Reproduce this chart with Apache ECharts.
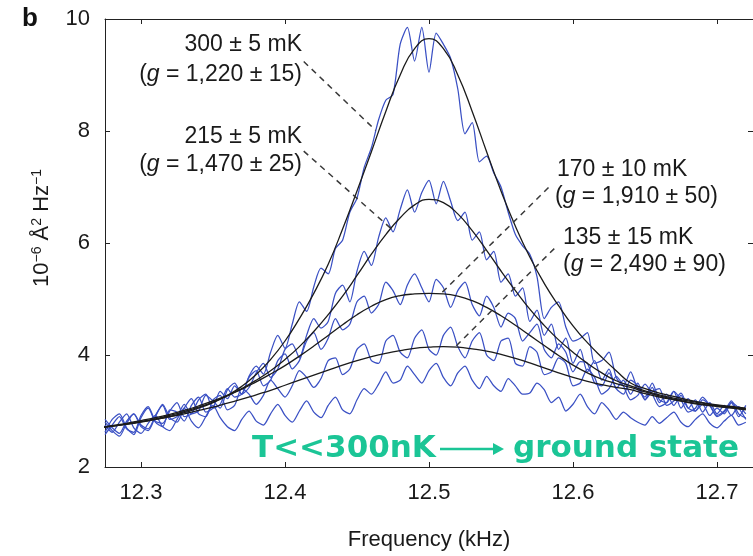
<!DOCTYPE html>
<html><head><meta charset="utf-8">
<script src="https://cdn.jsdelivr.net/npm/echarts@6/dist/echarts.min.js"></script>
<style>html,body{margin:0;padding:0;background:#fff}#c{width:753px;height:556px}</style>
</head><body><div id="c"></div>
<script>
// ---- data ----
const xTicks = [12.3, 12.4, 12.5, 12.6, 12.7];
const yTicks = [2, 4, 6, 8, 10];
const fitFreq = [12.27,12.28,12.29,12.30,12.31,12.32,12.33,12.34,12.35,12.36,12.37,12.38,12.39,12.40,12.41,12.42,12.43,12.44,12.45,12.46,12.47,12.48,12.49,12.50,12.51,12.52,12.53,12.54,12.55,12.56,12.57,12.58,12.59,12.60,12.61,12.62,12.63,12.64,12.65,12.66,12.67,12.68,12.69,12.70,12.71,12.72];
const fit300 = [2.70,2.73,2.76,2.80,2.85,2.90,2.97,3.05,3.15,3.28,3.44,3.65,3.92,4.25,4.65,5.10,5.62,6.25,6.93,7.63,8.35,9.00,9.47,9.65,9.47,9.00,8.35,7.63,6.93,6.30,5.75,5.28,4.88,4.52,4.22,3.96,3.72,3.50,3.40,3.32,3.26,3.20,3.15,3.11,3.08,3.05];
const fit215 = [2.70,2.73,2.77,2.81,2.86,2.92,2.99,3.07,3.16,3.27,3.40,3.55,3.72,3.92,4.15,4.42,4.72,5.05,5.42,5.80,6.15,6.45,6.68,6.78,6.72,6.52,6.22,5.87,5.50,5.15,4.82,4.53,4.27,4.05,3.85,3.68,3.54,3.45,3.36,3.29,3.23,3.18,3.14,3.10,3.07,3.04];
const fit170 = [2.70,2.74,2.78,2.83,2.88,2.94,3.01,3.09,3.18,3.28,3.39,3.52,3.66,3.81,3.98,4.16,4.35,4.54,4.72,4.87,4.99,5.06,5.09,5.10,5.09,5.05,4.97,4.85,4.70,4.53,4.35,4.17,3.99,3.82,3.68,3.57,3.49,3.42,3.34,3.27,3.21,3.16,3.12,3.09,3.06,3.03];
const fit135 = [2.70,2.73,2.77,2.81,2.85,2.90,2.95,3.01,3.07,3.14,3.21,3.29,3.37,3.46,3.55,3.64,3.73,3.82,3.90,3.97,4.03,4.08,4.12,4.14,4.15,4.14,4.11,4.07,4.01,3.94,3.86,3.77,3.68,3.60,3.53,3.47,3.42,3.38,3.31,3.25,3.20,3.15,3.11,3.08,3.05,3.02];

const traceStart = 12.275, traceStep = 0.005;
const trace300 = [2.62,2.85,2.95,2.70,2.58,2.88,3.05,2.80,2.72,3.02,2.98,2.82,3.10,3.25,2.98,3.05,3.35,3.22,3.45,3.30,3.62,3.80,3.66,4.05,4.35,4.12,4.55,4.95,4.78,5.22,5.55,5.45,5.90,6.05,6.55,6.80,7.35,7.70,8.20,8.55,8.65,9.55,9.85,9.25,9.85,9.05,9.75,9.55,9.30,8.75,7.95,8.15,7.45,7.55,7.25,7.00,6.55,6.15,5.95,5.80,5.40,4.65,4.85,4.95,4.50,4.25,4.30,4.40,3.85,3.90,4.05,3.60,3.45,3.70,3.38,3.25,3.50,3.20,3.15,3.35,3.05,3.22,3.00,3.12,2.92,3.05,2.95,3.15,2.90,3.10];
const trace215 = [2.80,2.65,2.55,2.78,2.95,2.75,2.68,2.92,3.10,2.85,2.90,3.12,2.95,3.00,3.28,3.18,3.05,3.38,3.50,3.30,3.42,3.68,3.85,3.60,3.75,4.10,4.20,3.95,4.35,4.65,4.48,4.60,5.10,5.25,4.95,5.50,5.85,5.60,6.10,6.45,6.20,6.60,6.95,6.55,6.90,7.12,6.70,7.10,6.75,6.40,6.55,6.05,6.20,5.70,5.85,5.30,5.45,5.05,5.20,4.60,4.80,4.35,4.55,4.10,4.30,3.85,4.10,3.70,3.90,3.55,3.75,3.40,3.55,3.30,3.50,3.20,3.42,3.15,3.30,3.10,3.28,3.05,3.20,2.98,3.15,2.95,3.10,2.92,3.08,2.95];
const trace170 = [2.58,2.75,2.90,2.68,2.62,2.92,3.08,2.82,2.78,3.00,3.15,2.90,2.95,3.20,3.30,3.05,3.12,3.40,3.25,3.30,3.60,3.72,3.45,3.55,3.90,4.02,3.75,3.90,4.25,4.40,4.10,4.30,4.65,4.45,4.55,4.95,5.05,4.75,4.90,5.30,5.15,4.90,5.25,5.45,5.20,4.95,5.35,5.20,4.85,5.15,5.30,4.90,4.70,5.05,4.85,4.50,4.75,4.65,4.25,4.40,4.55,4.10,3.95,4.20,4.05,3.70,3.88,3.85,3.50,3.45,3.68,3.40,3.30,3.55,3.45,3.20,3.35,3.40,3.10,3.18,3.32,3.05,3.00,3.20,3.10,2.92,3.00,3.18,2.95,2.88];
const trace135 = [2.85,2.70,2.60,2.82,2.95,2.72,2.65,2.90,3.12,2.88,2.80,3.05,3.22,2.95,2.90,3.20,3.28,3.02,3.10,3.40,3.30,3.12,3.28,3.55,3.40,3.25,3.45,3.72,3.60,3.42,3.58,3.90,3.95,3.65,3.75,4.10,4.20,3.90,3.85,4.25,4.35,4.05,3.95,4.30,4.45,4.10,4.00,4.35,4.50,4.15,3.95,4.25,4.40,4.00,3.90,4.25,4.30,3.85,3.80,4.15,4.05,3.65,3.70,3.95,3.85,3.45,3.50,3.75,3.60,3.30,3.40,3.62,3.45,3.20,3.28,3.48,3.30,3.08,3.15,3.35,3.20,2.98,3.05,3.25,3.10,2.90,2.98,3.15,3.05,2.85];
const traceGround = [2.75,2.62,2.80,2.95,2.70,2.60,2.78,2.92,2.72,2.65,2.85,3.05,2.82,2.70,2.90,3.10,2.88,2.72,2.65,2.85,3.00,2.82,2.75,2.95,3.12,2.92,2.80,3.00,3.18,2.98,2.88,3.10,3.25,3.02,2.95,3.20,3.40,3.30,3.48,3.70,3.50,3.55,3.80,3.65,3.50,3.72,3.85,3.60,3.45,3.68,3.80,3.55,3.40,3.62,3.45,3.35,3.58,3.45,3.30,3.32,3.50,3.38,3.15,3.25,3.00,3.12,3.30,3.08,2.95,3.15,3.02,2.85,2.98,2.88,2.80,2.75,2.90,2.78,2.88,2.98,2.80,2.72,2.85,2.95,2.78,2.70,2.82,2.92,2.75,2.80];

const leader300 = [[12.413, 9.24], [12.463, 8.01]];
const leader215 = [[12.413, 7.64], [12.474, 6.25]];
const leader170 = [[12.583, 6.99], [12.508, 5.09]];
const leader135 = [[12.587, 5.90], [12.518, 4.14]];

// ---- build ----
const traceXY = arr => arr.map((v, i) => [+(traceStart + i * traceStep).toFixed(3), v]);
const fitXY = arr => arr.map((v, i) => [fitFreq[i], v]);

const BLUE = '#3a50c4', BLACK = '#1b1b1b', FONT = 'Liberation Sans';
const traceSeries = [trace300, trace215, trace170, trace135, traceGround].map(a => ({
  type: 'line', data: traceXY(a), showSymbol: false, smooth: 0.25, silent: true,
  lineStyle: { color: BLUE, width: 1.25 }, z: 2
}));
const fitSeries = [fit300, fit215, fit170, fit135].map(a => ({
  type: 'line', data: fitXY(a), showSymbol: false, smooth: true, silent: true,
  lineStyle: { color: BLACK, width: 1.3 }, z: 3
}));
const leaderSeries = [leader300, leader215, leader170, leader135].map(a => ({
  type: 'line', data: a, showSymbol: false, silent: true,
  lineStyle: { color: '#3a3a3a', width: 1.5, type: [6, 5] }, z: 4
}));

const annoFont = { fontFamily: FONT, fontSize: 23, fill: '#1a1a1a' };
const rich = { i: { fontFamily: FONT, fontSize: 23, fontStyle: 'italic', fill: '#1a1a1a' } };
function anno(text, x, y, align) {
  return { type: 'text', x: x, y: y, z: 10, style: Object.assign({ text: text, align: align, verticalAlign: 'middle', rich: rich }, annoFont) };
}
const GREEN = '#1bc596';

const chart = echarts.init(document.getElementById('c'), null, { renderer: 'canvas' });
chart.setOption({
  animation: false,
  backgroundColor: '#fff',
  grid: { left: 105, right: -3, top: 19, bottom: 82 },
  xAxis: [{
    type: 'value', min: 12.275, max: 12.725,
    axisLine: { lineStyle: { color: '#222', width: 1 } },
    axisTick: { inside: true, length: 5, customValues: xTicks, lineStyle: { color: '#222' } },
    axisLabel: { customValues: xTicks, margin: 15, fontFamily: FONT, fontSize: 22, color: '#1a1a1a', formatter: v => v.toFixed(1) },
    splitLine: { show: false },
    name: 'Frequency (kHz)', nameLocation: 'middle', nameGap: 62,
    nameTextStyle: { fontFamily: FONT, fontSize: 22, color: '#1a1a1a' }
  }, {
    type: 'value', position: 'top', min: 12.275, max: 12.725,
    axisLine: { lineStyle: { color: '#222', width: 1 } },
    axisTick: { inside: true, length: 5, customValues: xTicks, lineStyle: { color: '#222' } },
    axisLabel: { show: false }, splitLine: { show: false }
  }],
  yAxis: [{
    type: 'value', min: 2, max: 10,
    axisLine: { show: true, lineStyle: { color: '#222', width: 1 } },
    axisTick: { show: true, inside: true, length: 5, customValues: yTicks, lineStyle: { color: '#222' } },
    axisLabel: { customValues: yTicks, margin: 15, fontFamily: FONT, fontSize: 22, color: '#1a1a1a' },
    splitLine: { show: false }
  }, {
    type: 'value', position: 'right', min: 2, max: 10,
    axisLine: { show: true, lineStyle: { color: '#222', width: 1 } },
    axisTick: { show: true, inside: true, length: 5, customValues: yTicks, lineStyle: { color: '#222' } },
    axisLabel: { show: false }, splitLine: { show: false }
  }],
  series: traceSeries.concat(fitSeries, leaderSeries),
  graphic: [
    { type: 'text', x: 22, y: 19, style: { text: 'b', fontFamily: FONT, fontSize: 26, fontWeight: 'bold', fill: '#111', verticalAlign: 'middle' } },
    { type: 'text', x: 42, y: 228, rotation: Math.PI / 2, style: {
        text: '10{s|−6} Å{s|2} Hz{s|−1}', fontFamily: FONT, fontSize: 22, fill: '#1a1a1a', align: 'center', verticalAlign: 'middle',
        rich: { s: { fontFamily: FONT, fontSize: 14, fill: '#1a1a1a', padding: [0, 0, 10, 0] } } } },
    anno('300 ± 5 mK', 302, 45, 'right'),
    anno('({i|g} = 1,220 ± 15)', 302, 75, 'right'),
    anno('215 ± 5 mK', 302, 137, 'right'),
    anno('({i|g} = 1,470 ± 25)', 302, 165, 'right'),
    anno('170 ± 10 mK', 557, 170, 'left'),
    anno('({i|g} = 1,910 ± 50)', 555, 197, 'left'),
    anno('135 ± 15 mK', 563, 238, 'left'),
    anno('({i|g} = 2,490 ± 90)', 563, 265, 'left'),
    { type: 'text', x: 252, y: 449, z: 20, style: { text: 'T<<300nK', fontFamily: 'DejaVu Sans', fontWeight: 'bold', fontSize: 31, fill: GREEN, verticalAlign: 'middle' } },
    { type: 'line', z: 20, shape: { x1: 440, y1: 449, x2: 496, y2: 449 }, style: { stroke: GREEN, lineWidth: 2.5 } },
    { type: 'polygon', z: 20, shape: { points: [[493, 443], [504, 449], [493, 455]] }, style: { fill: GREEN } },
    { type: 'text', x: 513, y: 449, z: 20, style: { text: 'ground state', fontFamily: 'DejaVu Sans', fontWeight: 'bold', fontSize: 31, fill: GREEN, verticalAlign: 'middle' } }
  ]
});
</script></body></html>
